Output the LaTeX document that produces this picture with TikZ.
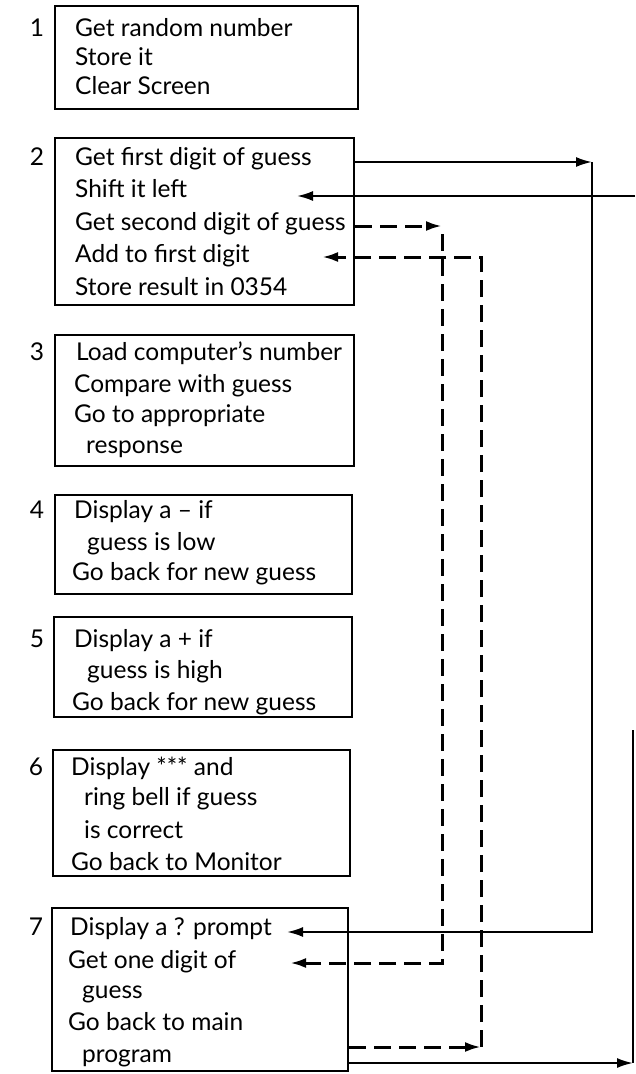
\documentclass[tikz,border=0pt]{standalone}
\usepackage{fontspec}
\setmainfont{Lato}
\usepackage{tikz}
\usetikzlibrary{arrows.meta, positioning, fit}
\tikzset{
  block/.style={rectangle, draw=black, line width=2pt, inner sep=0pt},
  txt/.style={anchor=base west, inner sep=0pt, font=\fontsize{24.5}{30}\selectfont},
  num/.style={anchor=base, inner sep=0pt, font=\fontsize{24.5}{30}\selectfont},
  arrow/.style={-{Latex[length=16pt,width=10pt]}, line width=2pt},
  dasharrow/.style={-{Latex[length=16pt,width=10pt]}, line width=3pt, dash pattern=on 17pt off 8pt},
  line/.style={line width=2pt}
}

\begin{document}
\begin{tikzpicture}[x=1pt,y=-1pt]
  \useasboundingbox (0,0) rectangle (635,1074);

  \node[block, fit={(55,6) (358,109)}] (b1) {};
  \node[block, fit={(55,138) (354,305)}] (b2) {};
  \node[block, fit={(55,335) (354,466)}] (b3) {};
  \node[block, fit={(55,495) (352,594)}] (b4) {};
  \node[block, fit={(54,617) (352,717)}] (b5) {};
  \node[block, fit={(53,750) (350,876)}] (b6) {};
  \node[block, fit={(52,908) (348,1071)}] (b7) {};

  \node[num] (n1) at (37,36) {1};
  \node[num] (n2) at (37,165) {2};
  \node[num] (n3) at (37,360) {3};
  \node[num] (n4) at (37,518) {4};
  \node[num] (n5) at (37,647) {5};
  \node[num] (n6) at (36,775) {6};
  \node[num] (n7) at (36,935) {7};

  \node[txt] (l1a) at (75,36) {Get random number};
  \node[txt] (l1b) at (75,65) {Store it};
  \node[txt] (l1c) at (75,94) {Clear Screen};

  \node[txt] (l2a) at (75,165) {Get first digit of guess};
  \node[txt] (l2b) at (75,197) {Shift it left};
  \node[txt] (l2c) at (75,230) {Get second digit of guess};
  \node[txt] (l2d) at (75,262) {Add to first digit};
  \node[txt] (l2e) at (75,295) {Store result in 0354};

  \node[txt] (l3a) at (76,360) {Load computer’s number};
  \node[txt] (l3b) at (74,392) {Compare with guess};
  \node[txt] (l3c) at (74,422) {Go to appropriate};
  \node[txt] (l3d) at (86,453) {response};

  \node[txt] (l4a) at (74,518) {Display a – if};
  \node[txt] (l4b) at (87,550) {guess is low};
  \node[txt] (l4c) at (72,580) {Go back for new guess};

  \node[txt] (l5a) at (74,647) {Display a + if};
  \node[txt] (l5b) at (87,678) {guess is high};
  \node[txt] (l5c) at (72,710) {Go back for new guess};

  \node[txt] (l6a) at (71,775) {Display *** and};
  \node[txt] (l6b) at (84,805) {ring bell if guess};
  \node[txt] (l6c) at (84,838) {is correct};
  \node[txt] (l6d) at (71,870) {Go back to Monitor};

  \node[txt] (l7a) at (70,935) {Display a ? prompt};
  \node[txt] (l7b) at (68,968) {Get one digit of};
  \node[txt] (l7c) at (82,998) {guess};
  \node[txt] (l7d) at (68,1030) {Go back to main};
  \node[txt] (l7e) at (82,1062) {program};

  % bends and free ends of the connectors
  \coordinate (a1) at (592,162);
  \coordinate (a2) at (592,932);
  \coordinate (a3) at (287,932);
  \coordinate (s1) at (635,196);
  \coordinate (s2) at (297,196);
  \coordinate (c1) at (442,226);
  \coordinate (c1b) at (442,234);
  \coordinate (c2) at (442,963);
  \coordinate (c3) at (290,963);
  \coordinate (d1) at (481,257);
  \coordinate (d2) at (322,257);
  \coordinate (d3) at (481,1047);
  \coordinate (e1) at (633,730);
  \coordinate (e2) at (633,1063);

  \draw[arrow] (b2.east |- a1) -- (a1);
  \draw[arrow] (a1) -- (a2) -- (a3);
  \draw[arrow] (s1) -- (s2);
  \draw[dasharrow] (b2.east |- c1) -- (c1);
  \draw[dasharrow] (c1b) -- (c2) -- (c3);
  \draw[dasharrow] (d3) -- (d1) -- (d2);
  \draw[dasharrow] (b7.east |- d3) -- (d3);
  \draw[line] (e1) -- (e2);
  \draw[arrow] (b7.east |- e2) -- (e2);
\end{tikzpicture}
\end{document}
